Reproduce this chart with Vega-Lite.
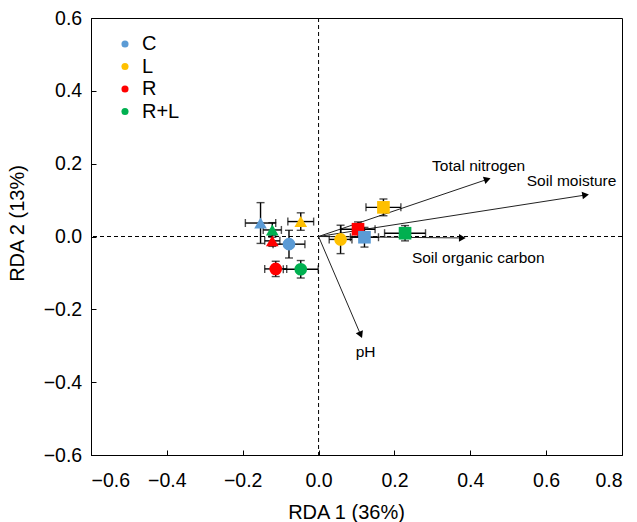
{
  "$schema": "https://vega.github.io/schema/vega-lite/v6.json",
  "autosize": "none",
  "width": 531,
  "height": 437,
  "padding": {"left": 91, "top": 18, "right": 15, "bottom": 67},
  "config": {
    "font": "Liberation Sans",
    "view": {"stroke": "black", "strokeWidth": 1},
    "axis": {
      "grid": false,
      "domainColor": "black",
      "tickColor": "black",
      "tickSize": -5,
      "labelColor": "black",
      "titleColor": "black",
      "labelFont": "Liberation Sans",
      "titleFont": "Liberation Sans",
      "labelFontSize": 19.5,
      "titleFontSize": 20,
      "titleFontWeight": "normal"
    }
  },
  "datasets": {
    "pts": [
      {"trt": "C", "form": "triangle", "x": -0.153, "y": 0.037, "xe": 0.04, "ye": 0.056},
      {"trt": "L", "form": "triangle", "x": -0.047, "y": 0.041, "xe": 0.034, "ye": 0.024},
      {"trt": "R+L", "form": "triangle", "x": -0.122, "y": 0.018, "xe": 0.024, "ye": 0.02},
      {"trt": "R", "form": "triangle", "x": -0.122, "y": -0.012, "xe": 0.02, "ye": 0.015},
      {"trt": "C", "form": "circle", "x": -0.078, "y": -0.021, "xe": 0.042, "ye": 0.038},
      {"trt": "R", "form": "circle", "x": -0.113, "y": -0.089, "xe": 0.029, "ye": 0.021},
      {"trt": "R+L", "form": "circle", "x": -0.047, "y": -0.09, "xe": 0.046, "ye": 0.024},
      {"trt": "L", "form": "circle", "x": 0.058, "y": -0.008, "xe": 0.03, "ye": 0.039},
      {"trt": "L", "form": "square", "x": 0.171, "y": 0.08, "xe": 0.046, "ye": 0.023},
      {"trt": "R", "form": "square", "x": 0.104, "y": 0.02, "xe": 0.045, "ye": 0.02},
      {"trt": "C", "form": "square", "x": 0.121, "y": -0.002, "xe": 0.037, "ye": 0.027},
      {"trt": "R+L", "form": "square", "x": 0.228, "y": 0.009, "xe": 0.054, "ye": 0.021}
    ],
    "arrows": [
      {"name": "Total nitrogen", "ax": 0.445, "ay": 0.157, "lx": 0.422, "ly": 0.194},
      {"name": "Soil moisture", "ax": 0.704, "ay": 0.114, "lx": 0.667, "ly": 0.152},
      {"name": "Soil organic carbon", "ax": 0.379, "ay": -0.004, "lx": 0.421, "ly": -0.06},
      {"name": "pH", "ax": 0.111, "ay": -0.27, "lx": 0.124, "ly": -0.316}
    ]
  },
  "layer": [
    {
      "data": {"values": [{}]},
      "mark": {"type": "rule", "strokeDash": [4, 3], "color": "black", "strokeWidth": 1},
      "encoding": {"x": {"datum": 0, "type": "quantitative", "title": "RDA 1 (36%)", "scale": {"domain": [-0.6, 0.8], "nice": false}, "axis": {"values": [-0.6, -0.4, -0.2, 0, 0.2, 0.4, 0.6, 0.8], "format": ".1f", "titlePadding": 12, "labelPadding": 21.5, "titleX": 255}}}
    },
    {
      "data": {"values": [{}]},
      "mark": {"type": "rule", "strokeDash": [4, 3], "color": "black", "strokeWidth": 1},
      "encoding": {"y": {"datum": 0, "type": "quantitative", "title": "RDA 2 (13%)", "scale": {"domain": [-0.6, 0.6], "nice": false}, "axis": {"values": [-0.6, -0.4, -0.2, 0, 0.2, 0.4, 0.6], "format": ".1f", "titlePadding": 16, "labelPadding": 14.3, "titleY": 205}}}
    },
    {
      "data": {"name": "arrows"},
      "mark": {"type": "rule", "color": "#222", "strokeWidth": 1},
      "encoding": {
        "x": {"field": "ax", "type": "quantitative", "title": "RDA 1 (36%)"},
        "y": {"field": "ay", "type": "quantitative", "title": "RDA 2 (13%)"},
        "x2": {"datum": 0},
        "y2": {"datum": 0}
      }
    },
    {
      "data": {"name": "arrows"},
      "transform": [{"calculate": "-atan2(datum.ay*364, datum.ax*379)*180/PI", "as": "ang"}],
      "mark": {"type": "point", "shape": "triangle-right", "filled": true, "color": "black", "size": 60, "opacity": 1},
      "encoding": {
        "x": {"field": "ax", "type": "quantitative", "title": "RDA 1 (36%)"},
        "y": {"field": "ay", "type": "quantitative", "title": "RDA 2 (13%)"},
        "angle": {"field": "ang", "type": "quantitative", "scale": null}
      }
    },
    {
      "data": {"name": "arrows"},
      "mark": {"type": "text", "fontSize": 15.5, "color": "black", "align": "center", "baseline": "middle"},
      "encoding": {
        "x": {"field": "lx", "type": "quantitative", "title": "RDA 1 (36%)"},
        "y": {"field": "ly", "type": "quantitative", "title": "RDA 2 (13%)"},
        "text": {"field": "name"}
      }
    },
    {
      "data": {"name": "pts"},
      "mark": {"type": "errorbar", "ticks": {"color": "black", "size": 8, "thickness": 1.4}, "rule": {"color": "black", "strokeWidth": 1.4}, "color": "black"},
      "encoding": {
        "x": {"field": "x", "type": "quantitative", "title": "RDA 1 (36%)"},
        "xError": {"field": "xe"},
        "y": {"field": "y", "type": "quantitative", "title": "RDA 2 (13%)"}
      }
    },
    {
      "data": {"name": "pts"},
      "mark": {"type": "errorbar", "ticks": {"color": "black", "size": 8, "thickness": 1.4}, "rule": {"color": "black", "strokeWidth": 1.4}, "color": "black"},
      "encoding": {
        "y": {"field": "y", "type": "quantitative", "title": "RDA 2 (13%)"},
        "yError": {"field": "ye"},
        "x": {"field": "x", "type": "quantitative", "title": "RDA 1 (36%)"}
      }
    },
    {
      "data": {"name": "pts"},
      "mark": {"type": "point", "filled": true, "opacity": 1, "size": 160},
      "encoding": {
        "x": {"field": "x", "type": "quantitative", "title": "RDA 1 (36%)"},
        "y": {"field": "y", "type": "quantitative", "title": "RDA 2 (13%)"},
        "color": {
          "field": "trt", "type": "nominal",
          "scale": {"domain": ["C", "L", "R", "R+L"], "range": ["#5B9BD5", "#FFC000", "#FF0000", "#00B050"]},
          "legend": {"title": null, "orient": "none", "legendX": 24, "legendY": 16, "symbolType": "circle", "symbolSize": 50, "labelFontSize": 20, "labelFont": "Liberation Sans", "labelColor": "black", "rowPadding": 2.5, "labelOffset": 7, "symbolOpacity": 1}
        },
        "shape": {
          "field": "form", "type": "nominal",
          "scale": {"domain": ["triangle", "circle", "square"], "range": ["triangle-up", "circle", "square"]},
          "legend": null
        }
      }
    }
  ]
}
